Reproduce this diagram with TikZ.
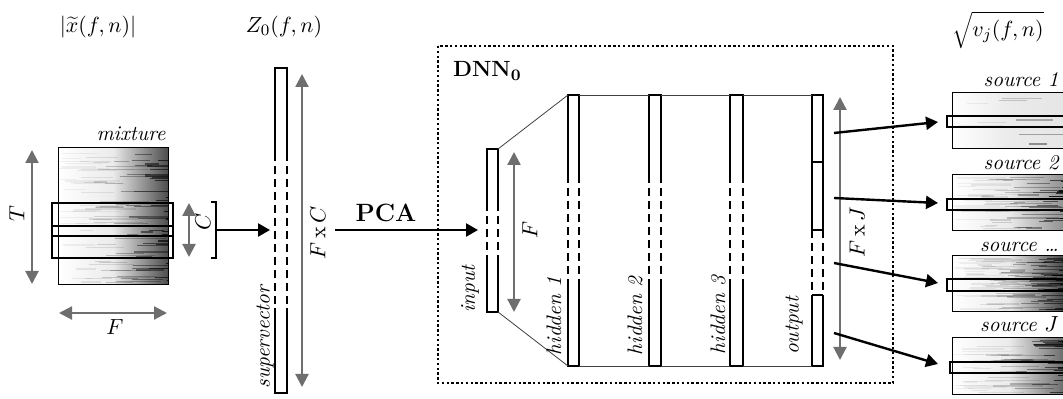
\documentclass[tikz,border=0pt]{standalone}
\usetikzlibrary{arrows.meta}

\tikzset{
  grayarrow/.style={{Triangle[length=6.5pt,width=6.5pt]}-{Triangle[length=6.5pt,width=6.5pt]}, draw=black!57, line width=1.1pt},
  blackarrow/.style={-{Triangle[length=6pt,width=6.5pt]}, line width=1.2pt},
  layerline/.style={line width=1.2pt},
  layergap/.style={line width=1.2pt, dash pattern=on 4pt off 2.5pt},
  frame/.style={line width=1.3pt},
  link/.style={line width=0.4pt, draw=black!75},
  lbl/.style={font=\fontsize{10.5}{12}\selectfont\itshape, inner sep=1pt},
}

% spectrogram: x1 y1 x2 y2 darkness streaks
\newcommand{\spec}[6]{%
  \begin{scope}
    \clip (#1,#2) rectangle (#3,#4);
    \shade[left color=white, right color=black!#5, middle color=black!8] (#1,#2) rectangle (#3,#4);
    \foreach \k in {1,...,#6}{
      \pgfmathsetmacro{\sy}{#2+2+rnd*(#4-#2-4)}
      \pgfmathsetmacro{\sx}{#1+rnd*(#3-#1)}
      \pgfmathsetmacro{\sl}{10+rnd*45}
      \pgfmathsetmacro{\so}{0.05+0.75*((\sx-#1)/(#3-#1))^2}
      \draw[black, opacity=\so, line width=0.6pt] (\sx,\sy) -- ++(\sl,0);
    }
  \end{scope}
  \draw[line width=0.5pt] (#1,#2) rectangle (#3,#4);}

% layer: name xl xr top dash-start dash-end bottom
\newcommand{\layer}[7]{%
  \coordinate (#1-nw) at (#2,#4); \coordinate (#1-ne) at (#3,#4);
  \coordinate (#1-sw) at (#2,#7); \coordinate (#1-se) at (#3,#7);
  \draw[layerline] (#2,#5) -- (#2,#4) -- (#3,#4) -- (#3,#5);
  \draw[layerline] (#2,#6) -- (#2,#7) -- (#3,#7) -- (#3,#6);
  \draw[layergap] (#2,#5) -- (#2,#6) (#3,#5) -- (#3,#6);}

\begin{document}
\begin{tikzpicture}[x=0.5pt, y=-0.5pt, font=\fontsize{11}{13}\selectfont]
\useasboundingbox (0,0) rectangle (1063,399);
\pgfmathsetseed{42}

% titles
\node[inner sep=1pt] (tmix) at (98,27) {$|\widetilde{x}(f,n)|$};
\node[inner sep=1pt] (tsup) at (284,27) {$Z_0(f,n)$};
\node[inner sep=1pt] (tsrc) at (998,30) {$\sqrt{v_j(f,n)}$};

% mixture
\spec{58}{148}{168}{285}{70}{110}
\node[lbl, anchor=base east] (lmix) at (168,141) {mixture};
\draw[frame] (52,203) rectangle (173,236);
\draw[frame] (52,226) rectangle (173,258);
\coordinate (Ttop) at (32,150); \coordinate (Tbot) at (32,284);
\draw[grayarrow] (Ttop) -- (Tbot);
\node[rotate=90] (lT) at (17,214) {$T$};
\coordinate (Fl) at (59,313); \coordinate (Fr) at (167,313);
\draw[grayarrow] (Fl) -- (Fr);
\node (lF) at (115,327) {$F$};
\coordinate (Ctop) at (189,203); \coordinate (Cbot) at (189,257);
\draw[grayarrow] (Ctop) -- (Cbot);
\node[rotate=90] (lC) at (203,222) {$C$};
\draw[line width=1.2pt] (211,202) -- (216,202) -- (216,258) -- (211,258);
\coordinate (brk) at (216,230); \coordinate (svin) at (270,230);
\draw[blackarrow] (brk) -- (svin);

% supervector
\layer{sv}{275}{287}{68}{153}{308}{393}
\node[lbl, rotate=90] (lsv) at (265,337) {supervector};
\coordinate (FCtop) at (302,74); \coordinate (FCbot) at (302,387);
\draw[grayarrow] (FCtop) -- (FCbot);
\node[rotate=90] (lFC) at (318,233) {$F\,\mathrm{x}\,C$};

% PCA
\coordinate (pcaL) at (335,230); \coordinate (pcaR) at (478,230);
\draw[blackarrow] (pcaL) -- (pcaR);
\node[font=\fontsize{12.5}{14}\selectfont\bfseries] (lpca) at (386,213) {PCA};

% DNN
\draw[line width=0.8pt, dash pattern=on 1.2pt off 1.2pt] (438,46) rectangle (893,383);
\node[anchor=base west, font=\fontsize{11}{13}\selectfont\bfseries] (ldnn) at (446,77) {DNN$_{\mathbf{0}}$};

\layer{in}{487}{498}{149}{203}{257}{312}
\layer{h1}{568}{579}{95}{175}{283}{366}
\layer{h2}{649}{661}{95}{175}{283}{366}
\layer{h3}{730}{743}{95}{175}{283}{366}
\layer{out}{812}{823}{95}{230}{295}{366}
\draw[layerline] (812,162) -- (823,162) (812,230) -- (823,230) (812,295) -- (823,295);

\draw[link] (in-ne) -- (h1-nw);
\draw[link] (in-se) -- (h1-sw);
\draw[link] (h1-ne) -- (h2-nw);
\draw[link] (h1-se) -- (h2-sw);
\draw[link] (h2-ne) -- (h3-nw);
\draw[link] (h2-se) -- (h3-sw);
\draw[link] (h3-ne) -- (out-nw);
\draw[link] (h3-se) -- (out-sw);

\node[lbl, rotate=90] (lin) at (470,289) {input};
\node[lbl, rotate=90] (lh1) at (554,316) {hidden 1};
\node[lbl, rotate=90] (lh2) at (635,316) {hidden 2};
\node[lbl, rotate=90] (lh3) at (718,315) {hidden 3};
\node[lbl, rotate=90] (lout) at (794,326) {output};

\coordinate (Fin1) at (514,152); \coordinate (Fin2) at (514,312);
\draw[grayarrow] (Fin1) -- (Fin2);
\node[rotate=90] (lFin) at (530,230) {$F$};
\coordinate (FJtop) at (840,97); \coordinate (FJbot) at (840,360);
\draw[grayarrow] (FJtop) -- (FJbot);
\node[rotate=90] (lFJ) at (857,232) {$F\,\mathrm{x}\,J$};

% sources
\spec{952}{93}{1066}{149}{10}{8}
\spec{952}{175}{1066}{231}{45}{70}
\spec{952}{256}{1066}{312}{75}{110}
\spec{952}{338}{1066}{395}{60}{70}
\draw[frame] (947,116) rectangle (1070,127);
\draw[frame] (947,199) rectangle (1070,210);
\draw[frame] (947,279) rectangle (1070,291);
\draw[frame] (950,362) rectangle (1070,373);
\node[lbl, anchor=base east] (ls1) at (1061,87) {source 1};
\node[lbl, anchor=base east] (ls2) at (1061,170) {source 2};
\node[lbl, anchor=base east] (ls3) at (1061,252) {source \dots};
\node[lbl, anchor=base east] (ls4) at (1061,332) {source $J$};

\coordinate (o1) at (834,133); \coordinate (s1) at (938,122);
\coordinate (o2) at (834,198); \coordinate (s2) at (938,203);
\coordinate (o3) at (834,263); \coordinate (s3) at (938,283);
\coordinate (o4) at (834,333); \coordinate (s4) at (938,364);
\draw[blackarrow] (o1) -- (s1);
\draw[blackarrow] (o2) -- (s2);
\draw[blackarrow] (o3) -- (s3);
\draw[blackarrow] (o4) -- (s4);
\end{tikzpicture}
\end{document}
